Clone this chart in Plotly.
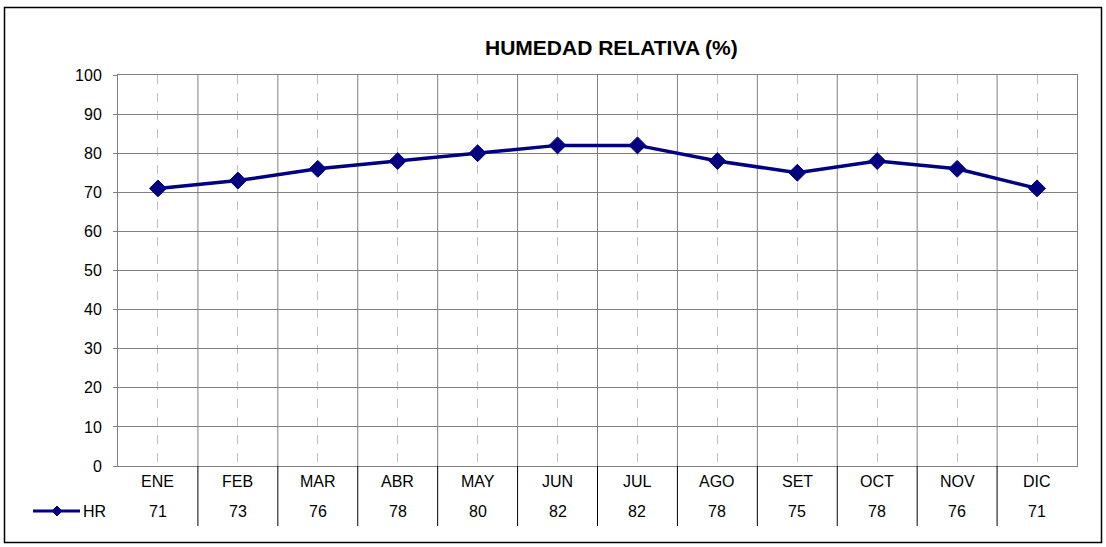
import plotly.graph_objects as go

months = ["ENE", "FEB", "MAR", "ABR", "MAY", "JUN", "JUL", "AGO", "SET", "OCT", "NOV", "DIC"]
hr = [71, 73, 76, 78, 80, 82, 82, 78, 75, 78, 76, 71]
series_name = "HR"
title_text = "HUMEDAD RELATIVA (%)"
y_ticks = list(range(0, 101, 10))

W, H = 1106, 547
L, R, T, B = 118, 1077, 75, 466
pw, ph = R - L, B - T

def px(x):
    return (x - L) / pw

def py(y):
    return (B - y) / ph

FONT = "Liberation Sans, Arial, sans-serif"
NAVY = "#000080"
GRID = "#808080"
FS = 16

fig = go.Figure()
fig.add_trace(go.Scatter(
    x=list(range(len(months))), y=hr, mode="lines+markers", name=series_name,
    line=dict(color=NAVY, width=3.5),
    marker=dict(symbol="diamond", size=13, color=NAVY, line=dict(color=NAVY, width=1)),
    showlegend=False, hoverinfo="x+y",
))

shapes = []
for i in range(len(months) - 1):
    shapes.append(dict(type="line", xref="x", yref="paper", x0=i + 0.5, x1=i + 0.5,
                       y0=0, y1=1, line=dict(color=GRID, width=1), layer="below"))
    shapes.append(dict(type="line", xref="x", yref="paper", x0=i + 0.5, x1=i + 0.5,
                       y0=py(526), y1=0, line=dict(color="black", width=1)))
shapes.append(dict(type="rect", xref="paper", yref="paper",
                   x0=px(4.5), x1=px(1101.5), y0=py(542.5), y1=py(7.5),
                   line=dict(color="black", width=1.5)))
shapes.append(dict(type="line", xref="paper", yref="paper", x0=px(33), x1=px(80),
                   y0=py(511), y1=py(511), line=dict(color=NAVY, width=3)))
shapes.append(dict(type="path", xref="paper", yref="paper", xsizemode="pixel", ysizemode="pixel",
                   xanchor=px(57), yanchor=py(511), path="M-5,0 L0,5 L5,0 L0,-5 Z",
                   fillcolor=NAVY, line=dict(color=NAVY, width=1)))

annotations = []
for i, m in enumerate(months):
    annotations.append(dict(x=i, y=py(481), xref="x", yref="paper", text=m, showarrow=False,
                            xanchor="center", yanchor="middle", font=dict(size=FS, color="black")))
    annotations.append(dict(x=i, y=py(511), xref="x", yref="paper", text=str(hr[i]), showarrow=False,
                            xanchor="center", yanchor="middle", font=dict(size=FS, color="black")))
annotations.append(dict(x=px(81), y=py(511), xref="paper", yref="paper", text=series_name, showarrow=False,
                        xanchor="left", yanchor="middle", font=dict(size=FS, color="black")))
annotations.append(dict(x=px(611), y=py(47), xref="paper", yref="paper", text="<b>" + title_text + "</b>",
                        showarrow=False, xanchor="center", yanchor="middle",
                        font=dict(size=21, color="black")))

fig.update_layout(
    width=W, height=H,
    margin=dict(l=L, r=W - R, t=T, b=H - B, pad=0),
    paper_bgcolor="white", plot_bgcolor="white",
    font=dict(family=FONT, size=FS, color="black"),
    shapes=shapes, annotations=annotations,
    xaxis=dict(range=[-0.5, len(months) - 0.5], tickvals=list(range(len(months))),
               showticklabels=False, ticks="", showgrid=True, gridcolor="#c0c0c0",
               griddash="dash", gridwidth=1, showline=True, linecolor=GRID, linewidth=1,
               mirror=True, zeroline=False, fixedrange=True),
    yaxis=dict(range=[0, 100], tickvals=y_ticks, ticks="outside", ticklen=4, tickcolor=GRID,
               showgrid=True, gridcolor=GRID, gridwidth=1, showline=True, linecolor=GRID,
               linewidth=1, mirror=True, zeroline=False, ticklabelstandoff=8,
               tickfont=dict(size=FS, color="black"), fixedrange=True),
)

fig.write_html("out.html", config={"displayModeBar": False},
               post_script="document.body.style.margin='0';document.body.style.overflow='hidden';")
